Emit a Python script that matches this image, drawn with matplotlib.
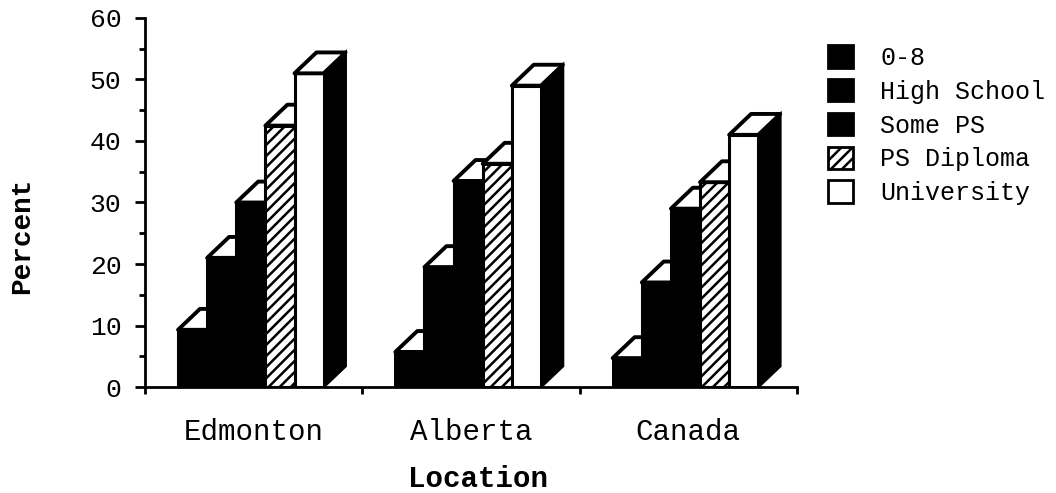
"""
Education level by location -- pseudo-3D bar chart, typewriter style.
"""

import matplotlib
matplotlib.use("Agg")
import matplotlib.pyplot as plt
from matplotlib.patches import Polygon, Patch

plt.rcParams["font.family"] = ["Liberation Mono", "DejaVu Sans Mono"]
plt.rcParams["hatch.linewidth"] = 1.8

locations = ["Edmonton", "Alberta", "Canada"]
levels = ["0-8", "High School", "Some PS", "PS Diploma", "University"]

edmonton = [9.3, 21, 30, 42.5, 51]
alberta = [5.7, 19.5, 33.5, 36.3, 49]
canada = [4.7, 17, 29, 33.3, 41]

yticks = [0, 10, 20, 30, 40, 50, 60]

# styling per education level: (face, hatch)
styles = [
    ("black", None),
    ("black", None),
    ("black", None),
    ("white", "///"),
    ("white", None),
]

BAR_W = 0.134      # front face width (category units)
START = -0.348     # left edge of first bar relative to category centre
DX = 0.101         # depth offset, x
DY = 3.4           # depth offset, y (percent units)


def draw_bar(ax, x, h, face, hatch, z):
    # right side face (always black)
    side = Polygon([(x + BAR_W, 0), (x + BAR_W + DX, DY),
                    (x + BAR_W + DX, h + DY), (x + BAR_W, h)],
                   closed=True, facecolor="black", edgecolor="black",
                   linewidth=2, zorder=z)
    ax.add_patch(side)
    # front face
    ax.bar(x, h, width=BAR_W, align="edge", facecolor=face,
           edgecolor="black", linewidth=2.2, hatch=hatch, zorder=z + 1)
    # top face
    top = Polygon([(x, h), (x + DX, h + DY), (x + BAR_W + DX, h + DY),
                   (x + BAR_W, h)],
                  closed=True, facecolor="white", edgecolor="black",
                  linewidth=2.8, joinstyle="round", zorder=z + 2)
    ax.add_patch(top)


fig = plt.figure(figsize=(10.56, 4.93), dpi=100)
ax = fig.add_axes([0.1373, 0.215, 0.6174, 0.7485])

for c, values in enumerate([edmonton, alberta, canada]):
    for i, v in enumerate(values):
        face, hatch = styles[i]
        draw_bar(ax, c + START + i * BAR_W, v, face, hatch, 10 + i * 3)

ax.set_xlim(-0.5, 2.5)
ax.set_ylim(0, 60)

ax.spines["top"].set_visible(False)
ax.spines["right"].set_visible(False)
ax.spines["left"].set_linewidth(2)
ax.spines["bottom"].set_linewidth(2)
ax.spines["bottom"].set_zorder(50)

ax.set_yticks(yticks)
ax.set_yticks([5, 15, 25, 35, 45, 55], minor=True)
ax.tick_params(axis="y", which="major", length=7, width=2, labelsize=19, pad=10)
ax.tick_params(axis="y", which="minor", length=4, width=2)

ax.set_xticks(range(len(locations)))
ax.set_xticklabels(locations)
ax.set_xticks([-0.5, 0.5, 1.5, 2.5], minor=True)
ax.tick_params(axis="x", which="major", length=0, labelsize=21, pad=22)
ax.tick_params(axis="x", which="minor", length=5, width=2)

ax.set_ylabel("Percent", fontsize=20, fontweight="bold", va="center")
ax.yaxis.set_label_coords(-0.189, 0.41)
ax.set_xlabel("Location", fontsize=21, fontweight="bold", va="center")
ax.xaxis.set_label_coords(0.511, -0.25)

handles = [Patch(facecolor=f, edgecolor="black", hatch=h, linewidth=2)
           for f, h in styles]
fig.legend(handles, levels, loc="upper left",
           bbox_to_anchor=(0.784, 0.908), frameon=False, fontsize=18,
           handlelength=1.0, handleheight=1.0, handletextpad=1.1,
           labelspacing=0.36, borderpad=0, borderaxespad=0)

fig.savefig("out.png", dpi=100)
plt.close(fig)
